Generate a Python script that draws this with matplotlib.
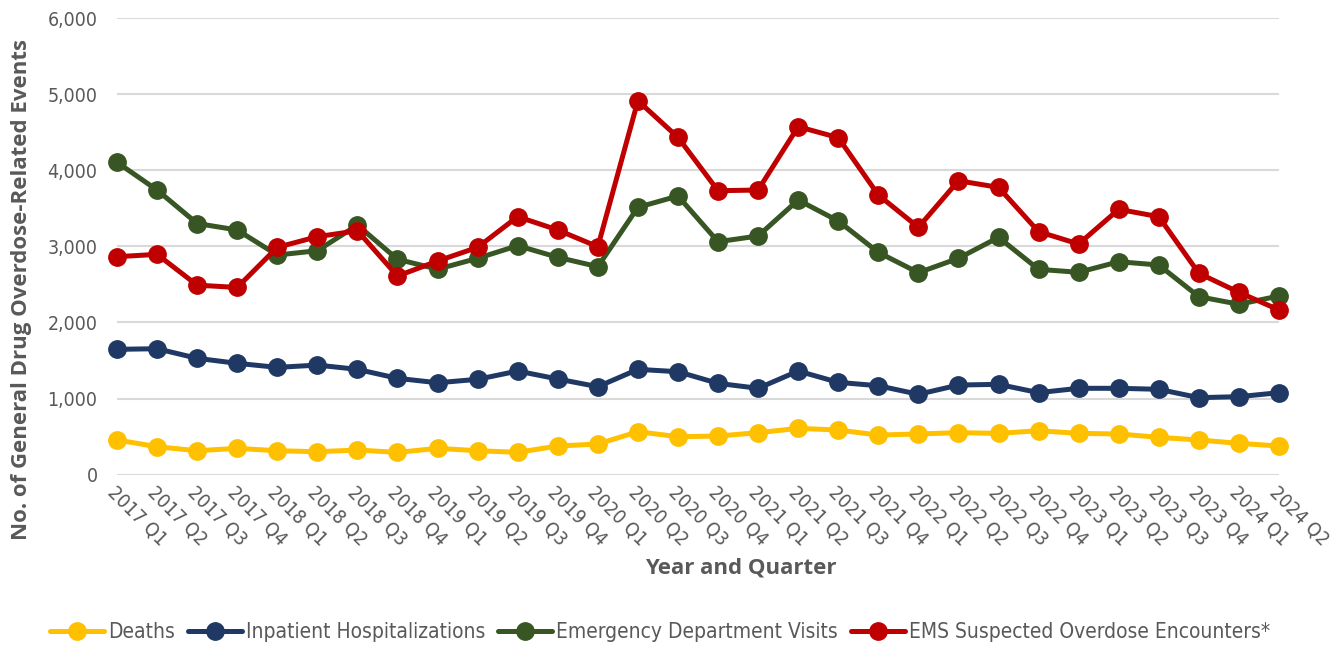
import matplotlib
matplotlib.use("Agg")
import matplotlib.pyplot as plt
from matplotlib import font_manager
import numpy as np

# quarters 2017 Q1 .. 2024 Q2
quarters = [f"{y} Q{q}" for y in range(2017, 2025) for q in range(1, 5)][:30]

deaths = [456, 368, 315, 346, 315, 302, 324, 293, 346, 315,
          294, 377, 403, 565, 499, 508, 552, 609, 587, 521,
          535, 552, 543, 578, 543, 535, 491, 456, 412, 377]
inpatient = [1647, 1655, 1529, 1463, 1410, 1440, 1384, 1266, 1208, 1253,
             1362, 1257, 1156, 1384, 1353, 1200, 1135, 1362, 1213, 1169,
             1056, 1178, 1187, 1078, 1135, 1135, 1122, 1012, 1025, 1078]
ed_visits = [4104, 3740, 3300, 3215, 2886, 2943, 3280, 2830, 2700, 2843,
             3009, 2856, 2733, 3513, 3661, 3061, 3136, 3609, 3333, 2921,
             2654, 2843, 3118, 2698, 2659, 2798, 2755, 2339, 2239, 2348]
ems = [2864, 2895, 2490, 2460, 2987, 3127, 3205, 2610, 2807, 2987,
       3390, 3215, 2995, 4913, 4432, 3731, 3740, 4572, 4428, 3675,
       3250, 3862, 3775, 3193, 3031, 3486, 3390, 2646, 2396, 2164]

series = [
    ("Deaths", deaths, "#FFC000"),
    ("Inpatient Hospitalizations", inpatient, "#1F3864"),
    ("Emergency Department Visits", ed_visits, "#375623"),
    ("EMS Suspected Overdose Encounters*", ems, "#C00000"),
]

gray = "#595959"
narrow = font_manager.FontProperties(family="DejaVu Sans", stretch="condensed", size=14)

fig = plt.figure(figsize=(13.43, 6.48), dpi=100)
ax = fig.add_axes([117 / 1343, 1 - 474.7 / 648, (1279 - 117) / 1343, (474.7 - 18) / 648])

x = np.arange(len(quarters))
for name, vals, col in series:
    ax.plot(x, vals, color=col, lw=3.6, marker="o", ms=12.5, label=name,
            solid_capstyle="round", zorder=3, clip_on=False)

ax.set_xlim(0, len(quarters) - 1)
ax.set_ylim(0, 6000)
ax.set_yticks(range(0, 6001, 1000))
ax.set_yticklabels([f"{v:,}" for v in range(0, 6001, 1000)],
                   fontproperties=narrow, color=gray)
ax.set_xticks(x)
ax.set_xticklabels(quarters, rotation=-45, ha="left", va="top",
                   rotation_mode="anchor", fontproperties=narrow, color=gray)
ax.tick_params(axis="y", length=0, pad=14)
ax.tick_params(axis="x", length=0, pad=6)
ax.grid(axis="y", color="#D9D9D9", lw=1.5, zorder=0)
for s in ax.spines.values():
    s.set_visible(False)

fig.text(22 / 1343, 1 - 290 / 648, "No. of General Drug Overdose-Related Events",
         rotation=90, ha="center", va="center", fontfamily="Open Sans",
         fontweight="bold", fontsize=16, color=gray)
fig.text(741 / 1343, 1 - 568 / 648, "Year and Quarter", ha="center", va="center",
         fontfamily="Open Sans", fontweight="bold", fontsize=16, color=gray)

leg_font = font_manager.FontProperties(family="DejaVu Sans", stretch="condensed", size=15)
leg = fig.legend(loc="center", bbox_to_anchor=(660 / 1343, 1 - 632 / 648), ncol=4,
                 frameon=False, handlelength=2.6, handletextpad=0.2, columnspacing=0.6,
                 prop=leg_font)
for t in leg.get_texts():
    t.set_color(gray)

fig.savefig("out.png", dpi=100)
